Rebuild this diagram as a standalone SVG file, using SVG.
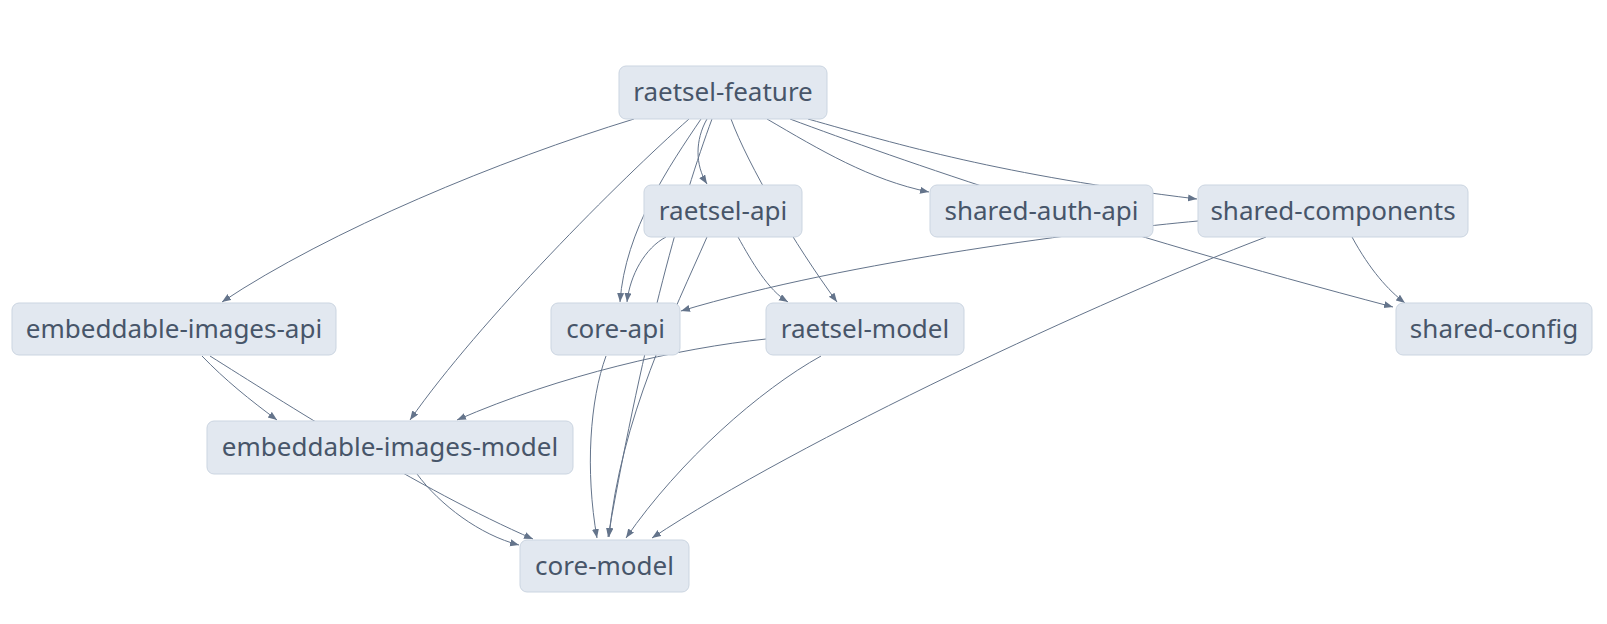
<svg xmlns="http://www.w3.org/2000/svg" width="1607" height="624" viewBox="0 0 1607 624">
<defs>
<style>
.node rect{fill:#e2e8f0;stroke:#cbd5e1;stroke-width:1}
.node text{font-family:"Noto Sans",sans-serif;font-size:26px;fill:#475569;text-anchor:middle}
.edge{fill:none;stroke:#64748b;stroke-width:1;marker-end:url(#arr)}
</style>
<marker id="arr" markerUnits="userSpaceOnUse" markerWidth="10" markerHeight="8" refX="9" refY="3.5" orient="auto">
<path d="M0,0 L9,3.5 L0,7 z" fill="#64748b"/>
</marker>
</defs>
<rect width="1607" height="624" fill="#ffffff"/>
<g id="edges">
<path class="edge" d="M634,119 C500,160 330,230 222,302"/>
<path class="edge" d="M689,119 C620,180 480,320 410,420"/>
<path class="edge" d="M707,119 C695,140 695,165 707,184"/>
<path class="edge" d="M701,119 C670,165 625,230 620,302"/>
<path class="edge" d="M712,119 C682,200 645,330 608,537"/>
<path class="edge" d="M731,119 C748,165 795,245 837,302"/>
<path class="edge" d="M767,119 C820,150 870,180 929,192"/>
<path class="edge" d="M808,119 C900,145 1000,175 1197,199"/>
<path class="edge" d="M790,119 C900,160 1100,230 1393,307"/>
<path class="edge" d="M666,237 C645,248 630,275 627,302"/>
<path class="edge" d="M707,237 C675,310 620,420 609,537"/>
<path class="edge" d="M738,237 C752,262 768,290 788,302"/>
<path class="edge" d="M1198,221 C1100,230 850,260 681,311"/>
<path class="edge" d="M1352,237 C1370,270 1388,290 1405,303"/>
<path class="edge" d="M1266,237 C1100,300 800,440 652,538"/>
<path class="edge" d="M202,356 C225,380 250,400 277,420"/>
<path class="edge" d="M210,356 C280,400 420,490 533,539"/>
<path class="edge" d="M417,474 C440,505 480,535 519,545"/>
<path class="edge" d="M606,356 C590,400 585,470 597,538"/>
<path class="edge" d="M766,339 C680,348 560,375 457,420"/>
<path class="edge" d="M821,356 C760,390 680,460 626,538"/>
</g>
<g id="raetsel-feature" class="node"><rect x="619" y="66" width="208" height="53" rx="7"/><text x="723" y="101">raetsel-feature</text></g>
<g id="raetsel-api" class="node"><rect x="644" y="185" width="158" height="52" rx="7"/><text x="723" y="219.5">raetsel-api</text></g>
<g id="shared-auth-api" class="node"><rect x="930" y="185" width="223" height="52" rx="7"/><text x="1041.5" y="219.5">shared-auth-api</text></g>
<g id="shared-components" class="node"><rect x="1198" y="185" width="270" height="52" rx="7"/><text x="1333" y="219.5">shared-components</text></g>
<g id="embeddable-images-api" class="node"><rect x="12" y="303" width="324" height="52" rx="7"/><text x="174" y="337.5">embeddable-images-api</text></g>
<g id="core-api" class="node"><rect x="551" y="303" width="129" height="52" rx="7"/><text x="615.5" y="337.5">core-api</text></g>
<g id="raetsel-model" class="node"><rect x="766" y="303" width="198" height="52" rx="7"/><text x="865" y="337.5">raetsel-model</text></g>
<g id="shared-config" class="node"><rect x="1396" y="303" width="196" height="52" rx="7"/><text x="1494" y="337.5">shared-config</text></g>
<g id="embeddable-images-model" class="node"><rect x="207" y="421" width="366" height="53" rx="7"/><text x="390" y="456">embeddable-images-model</text></g>
<g id="core-model" class="node"><rect x="520" y="540" width="169" height="52" rx="7"/><text x="604.5" y="574.5">core-model</text></g>
</svg>
